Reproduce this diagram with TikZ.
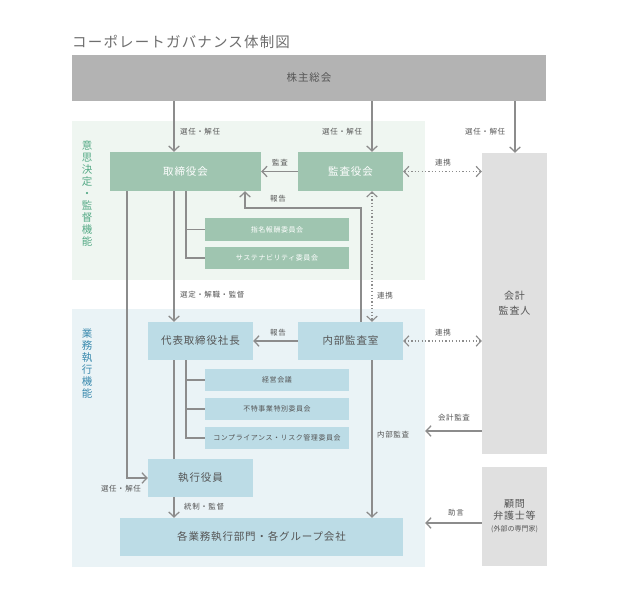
\documentclass[tikz,border=0pt]{standalone}
\usepackage{fontspec}
\setmainfont{Noto Sans CJK JP}
\newfontfamily\jpsp[LetterSpace=8]{Noto Sans CJK JP}
\usetikzlibrary{arrows.meta}
\definecolor{gbox}{HTML}{9FC5B0}
\definecolor{greg}{HTML}{EFF6F1}
\definecolor{bbox}{HTML}{BCDCE6}
\definecolor{breg}{HTML}{EAF3F6}
\definecolor{sbox}{HTML}{B3B3B3}
\definecolor{lbox}{HTML}{E0E0E0}
\definecolor{txt}{HTML}{555555}
\definecolor{lin}{HTML}{8C8C8C}
\definecolor{glab}{HTML}{55AA86}
\definecolor{blab}{HTML}{3A8AAE}
\begin{document}
\begin{tikzpicture}[x=1pt,y=-1pt,
  region/.style={fill=#1,draw=none,inner sep=0pt},
  boxg/.style={fill=gbox,draw=none,text=white,inner sep=0pt,font=\jpsp\fontsize{10.5}{12}\selectfont},
  boxb/.style={fill=bbox,draw=none,text=txt,inner sep=0pt,font=\jpsp\fontsize{10.5}{12}\selectfont},
  subg/.style={fill=gbox,draw=none,text=white,inner sep=0pt,minimum width=144pt,font=\jpsp\fontsize{7}{8}\selectfont},
  subb/.style={fill=bbox,draw=none,text=txt,inner sep=0pt,minimum width=144pt,font=\jpsp\fontsize{7}{8}\selectfont},
  boxl/.style={fill=lbox,draw=none,text=txt,inner sep=0pt,align=center},
  lbl/.style={text=txt,inner sep=0pt,font=\jpsp\fontsize{7.5}{9}\selectfont},
  conn/.style={draw=lin,line width=1.25pt},
  arr/.style={conn,-{Straight Barb[length=5pt,width=10.5pt]}},
  dot/.style={draw=lin,line width=1.1pt,dash pattern=on 1.2pt off 2.2pt,{Straight Barb[length=5pt,width=10.5pt]}-{Straight Barb[length=5pt,width=10.5pt]}},
  vlab/.style={inner sep=0pt,align=center,font=\fontsize{10.5}{12}\selectfont}
]
\useasboundingbox (0,0) rectangle (617,602);
\fill[white] (0,0) rectangle (617,602);

% title
\node[anchor=west,text=txt!85,inner sep=0pt,font=\jpsp\fontsize{14.5}{18}\selectfont] (title) at (72,42) {コーポレートガバナンス体制図};

% regions
\node[region=greg,minimum width=353pt,minimum height=159pt] (greenreg) at (248.5,200.5) {};
\node[region=breg,minimum width=353pt,minimum height=258pt] (bluereg) at (248.5,438) {};
\node[vlab,text=glab] (glabel) at (87,194) {意\\思\\決\\定\\・\\監\\督\\機\\能};
\node[vlab,text=blab] (blabel) at (87,363) {業\\務\\執\\行\\機\\能};

% boxes
\node[fill=sbox,draw=none,text=txt,inner sep=0pt,minimum width=474pt,minimum height=46pt,font=\jpsp\fontsize{10.5}{12}\selectfont] (kabu) at (309,78) {株主総会};
\node[boxg,minimum width=151pt,minimum height=39pt] (tori) at (185.5,171.5) {取締役会};
\node[boxg,minimum width=105pt,minimum height=39pt] (kansa) at (350.5,171.5) {監査役会};
\node[boxl,minimum width=65pt,minimum height=301pt,font=\jpsp\fontsize{10}{15}\selectfont] (kaikei) at (514.5,303.5) {会計\\監査人};
\node[boxl,minimum width=65pt,minimum height=99pt] (komon) at (514.5,516.5) {{\jpsp\fontsize{10}{15}\selectfont 顧問}\\{\jpsp\fontsize{10}{14}\selectfont 弁護士等}\\{\fontsize{7}{9}\selectfont (外部の専門家)}};
\node[subg,minimum height=23pt] (shimei) at (277,229.5) {指名報酬委員会};
\node[subg,minimum height=22pt] (sust) at (277,258) {サステナビリティ委員会};
\node[boxb,minimum width=105pt,minimum height=38pt] (daihyo) at (200.5,341) {代表取締役社長};
\node[boxb,minimum width=105pt,minimum height=38pt] (naibu) at (350.5,341) {内部監査室};
\node[subb,minimum height=22pt] (keiei) at (277,380) {経営会議};
\node[subb,minimum height=22pt] (futoku) at (277,409) {不特事業特別委員会};
\node[subb,minimum height=22pt] (comp) at (277,438) {コンプライアンス・リスク管理委員会};
\node[boxb,minimum width=105pt,minimum height=38pt] (shikko) at (200.5,478) {執行役員};
\node[boxb,minimum width=283pt,minimum height=38pt] (kaku) at (261.5,537) {各業務執行部門・各グループ会社};

% helper coordinates
\coordinate (xa) at (174,0);
\coordinate (xb) at (372,0);
\coordinate (xc) at (515,0);
\coordinate (xd) at (127,0);
\coordinate (xe) at (186,0);
\coordinate (xf) at (245,0);
\coordinate (xg) at (361,0);
\coordinate (yrep) at (0,208);
\coordinate (ykai) at (0,431);
\coordinate (yjo) at (0,523);

% connectors
\draw[arr] (kabu.south -| xa) -- (tori.north -| xa);
\node[lbl,anchor=west] (l1) at (180,132) {選任・解任};
\draw[arr] (kabu.south -| xb) -- (kansa.north -| xb);
\node[lbl,anchor=west] (l2) at (322,132) {選任・解任};
\draw[arr] (kabu.south -| xc) -- (kaikei.north -| xc);
\node[lbl,anchor=west] (l3) at (465,132) {選任・解任};

\draw[arr] (kansa.west) -- (tori.east);
\node[lbl] (l4) at (280,163) {監査};

\draw[arr] (naibu.north -| xg) -- (xg |- yrep) -- (xf |- yrep) -- (tori.south -| xf);
\node[lbl] (l5) at (278,199) {報告};

\draw[dot] (kansa.east) -- (kaikei.west |- kansa.east);
\node[lbl] (l6) at (443,163) {連携};
\draw[dot] (kansa.south -| xb) -- (naibu.north -| xb);
\node[lbl,anchor=west] (l7) at (377,296) {連携};

\draw[conn] (tori.south -| xe) -- (xe |- sust.west) -- (sust.west);
\draw[conn] (xe |- shimei.west) -- (shimei.west);

\draw[arr] (tori.south -| xa) -- (daihyo.north -| xa);
\node[lbl,anchor=west] (l8) at (180,295) {選定・解職・監督};

\draw[arr] (tori.south -| xd) -- (xd |- shikko.west) -- (shikko.west);
\node[lbl] (l9) at (121,489) {選任・解任};

\draw[arr] (naibu.west) -- (daihyo.east);
\node[lbl] (l10) at (278,333) {報告};
\draw[dot] (naibu.east) -- (kaikei.west |- naibu.east);
\node[lbl] (l11) at (443,333) {連携};

\draw[conn] (daihyo.south -| xe) -- (xe |- comp.west) -- (comp.west);
\draw[conn] (xe |- keiei.west) -- (keiei.west);
\draw[conn] (xe |- futoku.west) -- (futoku.west);

\draw[conn] (daihyo.south -| xa) -- (shikko.north -| xa);
\draw[arr] (shikko.south -| xa) -- (kaku.north -| xa);
\node[lbl,anchor=west] (l12) at (184,507) {統制・監督};

\draw[arr] (naibu.south -| xb) -- (kaku.north -| xb);
\node[lbl,anchor=west] (l13) at (377,435) {内部監査};

\draw[arr] (kaikei.west |- ykai) -- (bluereg.east |- ykai);
\node[lbl] (l14) at (454,418) {会計監査};
\draw[arr] (komon.west |- yjo) -- (bluereg.east |- yjo);
\node[lbl] (l15) at (456,513) {助言};
\end{tikzpicture}
\end{document}
